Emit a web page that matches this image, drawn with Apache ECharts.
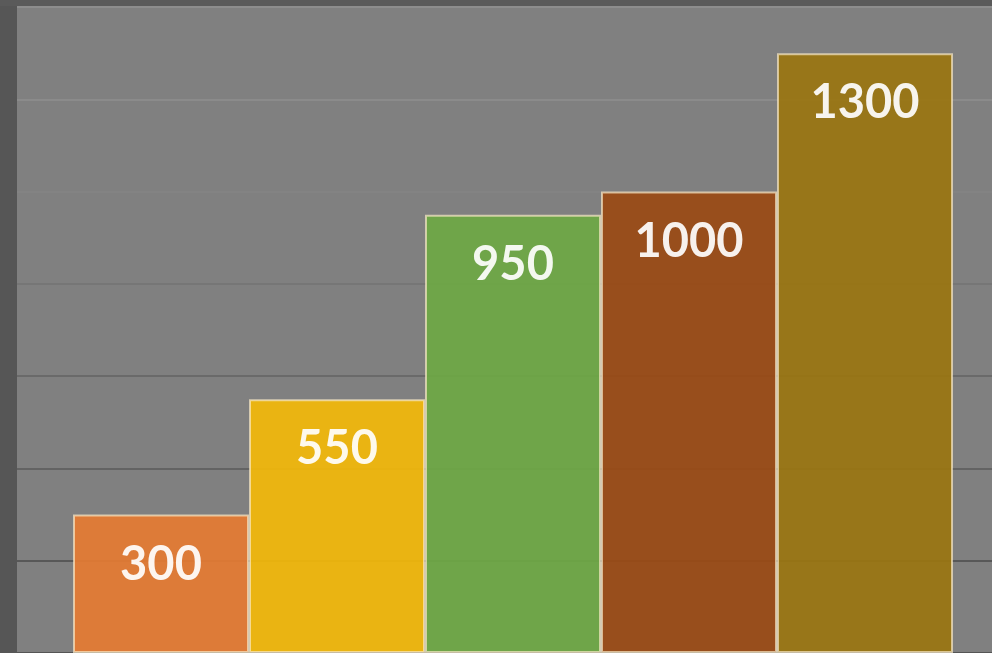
<!DOCTYPE html>
<html>
<head>
<meta charset="utf-8">
<style>
  html, body { margin: 0; padding: 0; background: #808080; }
  #chart { width: 992px; height: 653px; }
</style>
<script src="https://cdn.jsdelivr.net/npm/echarts@6/dist/echarts.min.js"></script>
</head>
<body>
<div id="chart"></div>
<script>
// Chart data
const categories = ['A', 'B', 'C', 'D', 'E'];
const values = [300, 550, 950, 1000, 1300];
const barColors = ['#e57b32', '#f3b809', '#6ea844', '#9a4a14', '#9a7510'];
const yTicks = { min: 0, max: 1400, interval: 200 };

// Gridline shades, from the zero line upward
const gridShades = ['#555555', '#585858', '#636363', '#6a6a6a', '#767676', '#838383', '#8b8b8b', '#8d8d8d'];

const chart = echarts.init(document.getElementById('chart'), null, { renderer: 'canvas' });

const plotTop = 7;
const plotHeight = 649;

const option = {
  backgroundColor: '#808080',
  animation: false,
  grid: [
    // wide grid carrying the horizontal gridlines
    { left: 17, right: 0, top: plotTop, height: plotHeight },
    // grid holding the bars
    { left: 73, width: 880, top: plotTop, height: plotHeight }
  ],
  xAxis: [
    { gridIndex: 0, type: 'value', min: 0, max: 1, show: false },
    {
      gridIndex: 1, type: 'category', data: categories,
      axisLine: { show: false }, axisTick: { show: false },
      axisLabel: { show: false }, splitLine: { show: false }
    }
  ],
  yAxis: [
    {
      gridIndex: 0, type: 'value',
      min: yTicks.min, max: yTicks.max, interval: yTicks.interval,
      axisLine: { show: false }, axisTick: { show: false }, axisLabel: { show: false },
      splitLine: { show: true, lineStyle: { color: gridShades, width: 2 } }
    },
    {
      gridIndex: 1, type: 'value',
      min: yTicks.min, max: yTicks.max, interval: yTicks.interval,
      show: false, splitLine: { show: false }
    }
  ],
  graphic: [
    { type: 'rect', left: 0, top: 0, shape: { width: 17, height: 653 }, style: { fill: '#565656' }, z: 10 },
    { type: 'rect', left: 0, top: 0, shape: { width: 992, height: 6 }, style: { fill: '#5a5a5a' }, z: 10 }
  ],
  series: [
    {
      type: 'bar',
      xAxisIndex: 1, yAxisIndex: 1,
      barWidth: '100%',
      data: values.map((v, i) => ({
        value: v,
        itemStyle: { color: barColors[i] }
      })),
      itemStyle: {
        opacity: 0.92,
        borderColor: 'rgba(250,235,200,0.75)',
        borderWidth: 2
      },
      label: {
        show: true,
        position: ['50%', 50],
        align: 'center',
        verticalAlign: 'middle',
        color: '#ffffff',
        fontFamily: 'Lato',
        fontWeight: 'bold',
        fontSize: 47
      }
    }
  ]
};

chart.setOption(option);
</script>
</body>
</html>
